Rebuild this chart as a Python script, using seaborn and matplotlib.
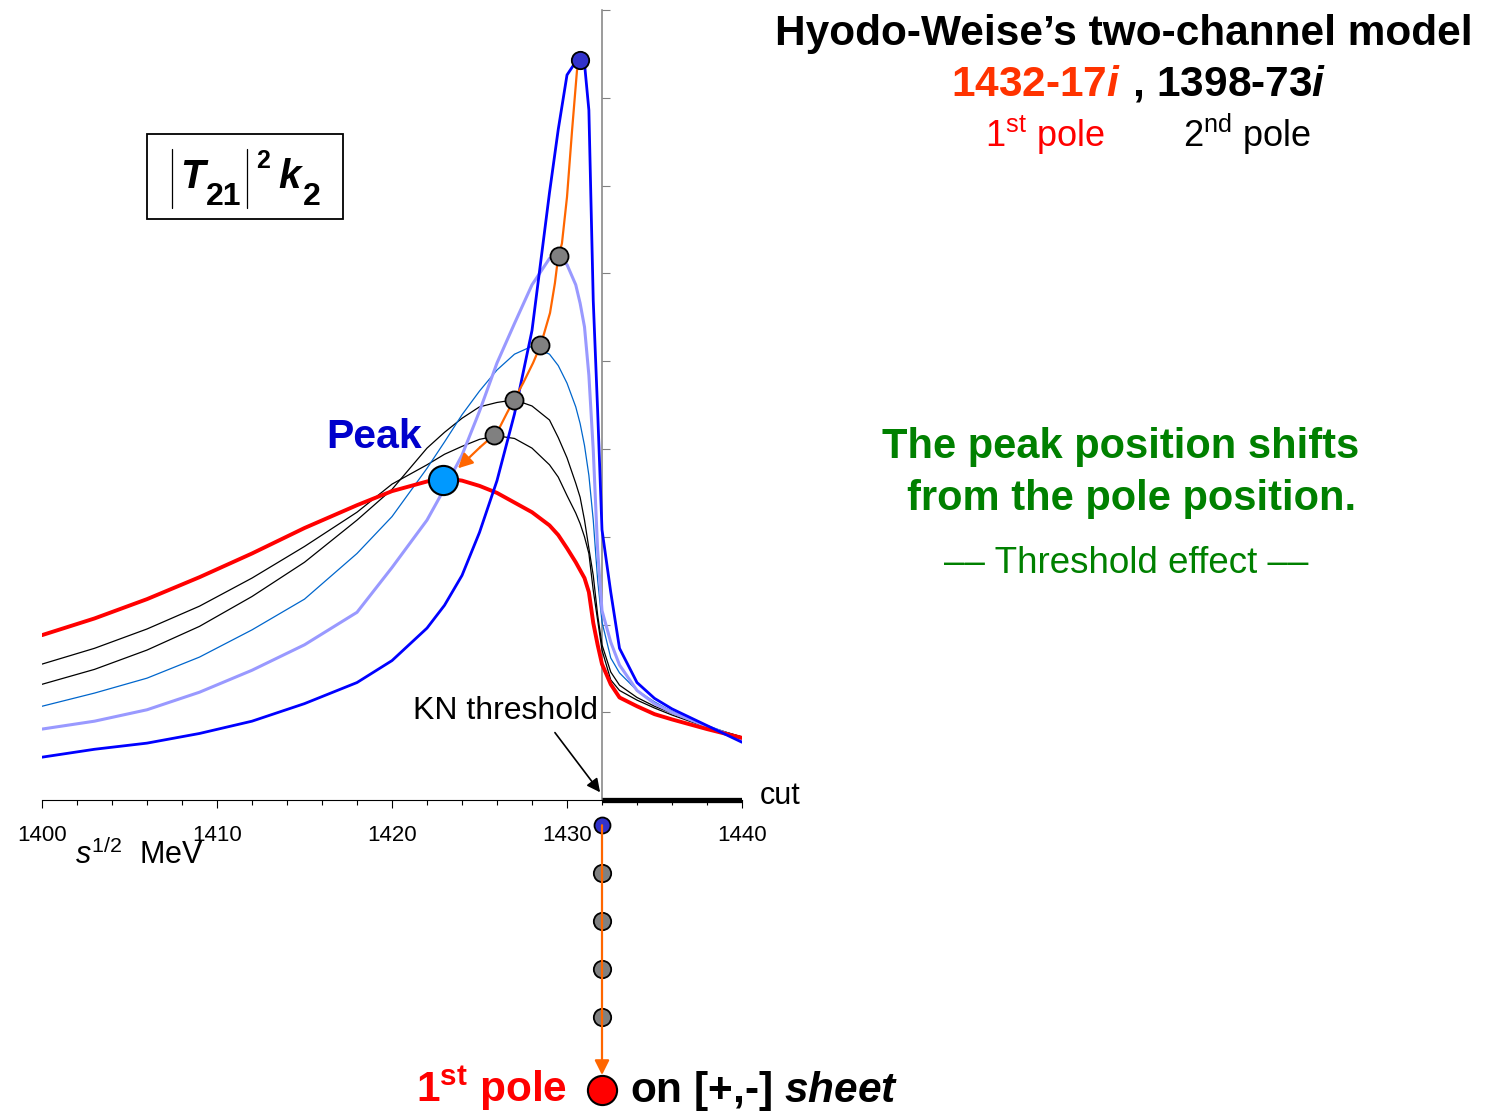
import numpy as np
import pandas as pd
import matplotlib
matplotlib.use("Agg")
import matplotlib.pyplot as plt
import seaborn as sns
from matplotlib.patches import Rectangle
from matplotlib.lines import Line2D

# ---------------- data ----------------
energy = [1400, 1403, 1406, 1409, 1412, 1415, 1418, 1420, 1422, 1423, 1424, 1425,
          1426, 1427, 1428, 1429, 1429.5, 1430, 1430.5, 1430.75, 1431, 1431.25,
          1431.5, 1431.75, 1432, 1432.5, 1433, 1434, 1435, 1436, 1438, 1440]

curve_red = [1.88, 2.07, 2.29, 2.54, 2.81, 3.10, 3.36, 3.52, 3.63, 3.67, 3.64, 3.58,
             3.50, 3.39, 3.28, 3.13, 3.02, 2.87, 2.71, 2.62, 2.53, 2.37,
             2.02, 1.77, 1.55, 1.32, 1.17, 1.07, 0.98, 0.92, 0.81, 0.71]
curve_black1 = [1.55, 1.73, 1.95, 2.21, 2.53, 2.89, 3.28, 3.60, 3.82, 3.94, 4.03, 4.11,
                4.15, 4.12, 4.01, 3.82, 3.68, 3.47, 3.27, 3.15, 3.00, 2.81,
                2.39, 2.05, 1.71, 1.37, 1.25, 1.14, 1.05, 0.97, 0.83, 0.72]
curve_black2 = [1.32, 1.49, 1.71, 1.98, 2.32, 2.71, 3.19, 3.54, 4.01, 4.19, 4.35, 4.48,
                4.53, 4.56, 4.49, 4.33, 4.13, 3.90, 3.61, 3.45, 3.19, 2.87,
                2.56, 2.11, 1.77, 1.46, 1.31, 1.17, 1.07, 0.99, 0.84, 0.72]
curve_thinblue = [1.07, 1.22, 1.39, 1.63, 1.94, 2.29, 2.81, 3.23, 3.78, 4.08, 4.39, 4.66,
                  4.90, 5.08, 5.17, 5.08, 4.95, 4.75, 4.48, 4.29, 4.04, 3.70,
                  3.19, 2.51, 2.03, 1.62, 1.45, 1.25, 1.12, 1.01, 0.85, 0.71]
curve_lilac = [0.81, 0.90, 1.03, 1.23, 1.48, 1.77, 2.14, 2.65, 3.19, 3.55, 3.93, 4.43,
               4.98, 5.43, 5.87, 6.17, 6.18, 6.10, 5.87, 5.66, 5.39, 4.84,
               3.99, 2.85, 2.16, 1.80, 1.54, 1.25, 1.10, 1.00, 0.84, 0.69]
curve_blue = [0.49, 0.58, 0.65, 0.76, 0.90, 1.10, 1.34, 1.59, 1.96, 2.22, 2.56, 3.05,
              3.64, 4.40, 5.35, 6.92, 7.64, 8.26, 8.41, 8.44, 8.39, 7.86,
              5.69, 4.44, 3.08, 2.37, 1.73, 1.34, 1.16, 1.04, 0.85, 0.66]

# peak positions of the curves (blue, then the grey ones)
peak_E = [1430.74, 1429.54, 1428.46, 1426.97, 1425.83]
peak_y = [8.43, 6.20, 5.19, 4.56, 4.16]
big_peak_E = [1422.91]
big_peak_y = [3.645]

# orange trajectory of the peak
traj_E = [1430.74, 1430.57, 1430.29, 1430.0, 1429.71, 1429.49, 1429.31, 1429.03, 1428.74,
          1428.51, 1428.06, 1427.49, 1426.97, 1426.57, 1426.06, 1425.83, 1425.03]
traj_y = [8.43, 8.31, 7.63, 6.87, 6.34, 6.18, 5.89, 5.55, 5.35,
          5.19, 4.98, 4.75, 4.56, 4.41, 4.21, 4.16, 4.02]
traj_tip = (1423.77, 3.78)

# pole trajectory below the real axis
threshold = 1432
pole_y = [-0.285, -0.83, -1.38, -1.92, -2.47]
final_pole_y = -3.30
pole_arrow_tip = -3.13

cut_E = [1432, 1440]
xticks_major = [1400, 1410, 1420, 1430, 1440]
kn_arrow_from = (1429.31, 0.77)
kn_arrow_to = (1431.89, 0.09)

# ---------------- style ----------------
sns.set_theme(style="white")
plt.rcParams["font.family"] = ["Liberation Sans", "DejaVu Sans"]
plt.rcParams["text.color"] = "black"
plt.rcParams["axes.labelcolor"] = "black"
plt.rcParams["xtick.color"] = "black"
plt.rcParams["mathtext.fontset"] = "custom"
plt.rcParams["mathtext.rm"] = "Liberation Sans"
plt.rcParams["mathtext.it"] = "Liberation Sans:italic"
plt.rcParams["mathtext.bf"] = "Liberation Sans:bold"
try:
    plt.rcParams["mathtext.bfit"] = "Liberation Sans:italic:bold"
except KeyError:
    pass

W, H = 1490, 1113
PY = 87.8  # px per y unit
fig = plt.figure(figsize=(W / 100, H / 100), dpi=100)
fig.patch.set_facecolor("white")


def fx(x):
    return x / W


def fy(y):
    return 1 - y / H


ax = fig.add_axes([fx(42), fy(1110), 700 / W, 1100 / H])
ax.set_xlim(1400, 1440)
ax.set_ylim(9 - 1100 / PY, 9)
ax.patch.set_alpha(0)

# ---------------- curves ----------------
curves = [
    ("black1", curve_black1, "#000000", 0.9),
    ("black2", curve_black2, "#000000", 0.9),
    ("thinblue", curve_thinblue, "#0066CC", 0.9),
    ("lilac", curve_lilac, "#9999FF", 2.2),
    ("red", curve_red, "#FF0000", 2.8),
    ("blue", curve_blue, "#0000FF", 2.0),
]
df = pd.concat([pd.DataFrame({"E": energy, "y": v, "curve": n}) for n, v, _, _ in curves])
for name, _, col, lw in curves:
    sns.lineplot(data=df[df["curve"] == name], x="E", y="y", color=col, lw=lw,
                 estimator=None, sort=False, ax=ax, legend=False, zorder=3)

orange = "#FF6600"
ax.plot(traj_E, traj_y, color=orange, lw=1.6, zorder=4)
ax.annotate("", xy=traj_tip, xytext=(traj_E[-1], traj_y[-1]),
            arrowprops=dict(arrowstyle="-|>", color=orange, lw=1.6, mutation_scale=22,
                            shrinkA=0, shrinkB=0), zorder=4)

ax.plot(peak_E[:1], peak_y[:1], "o", ms=12.5, mfc="#3333CC", mec="black", mew=1.3, zorder=6)
ax.plot(peak_E[1:], peak_y[1:], "o", ms=13, mfc="#808080", mec="black", mew=1.3, zorder=6)
ax.plot(big_peak_E, big_peak_y, "o", ms=21, mfc="#0099FF", mec="black", mew=1.5, zorder=6)

# cut
ax.plot(cut_E, [0, 0], color="black", lw=3.8, solid_capstyle="butt", zorder=5)

# pole trajectory
ax.annotate("", xy=(threshold, pole_arrow_tip), xytext=(threshold, pole_y[0]),
            arrowprops=dict(arrowstyle="-|>", color=orange, lw=1.6, mutation_scale=22,
                            shrinkA=0, shrinkB=0), zorder=7, annotation_clip=False)
ax.plot([threshold], pole_y[:1], "o", ms=11.5, mfc="#3333CC", mec="black", mew=1.3,
        zorder=6, clip_on=False)
ax.plot([threshold] * 4, pole_y[1:], "o", ms=12.5, mfc="#808080", mec="black", mew=1.3,
        zorder=6, clip_on=False)
ax.plot([threshold], [final_pole_y], "o", ms=21, mfc="#FF0000", mec="black", mew=1.5,
        zorder=6, clip_on=False)

# KN threshold arrow
ax.annotate("", xy=kn_arrow_to, xytext=kn_arrow_from,
            arrowprops=dict(arrowstyle="-|>", color="black", lw=1.2, mutation_scale=20,
                            shrinkA=0, shrinkB=0), zorder=5)
ax.text(1421.2, 0.93, "KN threshold", fontsize=23, color="black", ha="left",
        va="baseline", zorder=8)
ax.text(1441.0, 0.05, "cut", fontsize=22, color="black", ha="left", va="center",
        clip_on=False)

# ---------------- axes ----------------
ax.spines["top"].set_visible(False)
ax.spines["right"].set_visible(False)
ax.spines["bottom"].set_position(("data", 0))
ax.spines["bottom"].set_bounds(1400, 1440)
ax.spines["bottom"].set_color("black")
ax.spines["bottom"].set_linewidth(0.8)
ax.spines["left"].set_position(("data", threshold))
ax.spines["left"].set_bounds(0, 9)
ax.spines["left"].set_color("#808080")
ax.spines["left"].set_linewidth(1.1)
ax.set_xticks(xticks_major)
ax.set_xticks(np.arange(1400, 1441, 2), minor=True)
ax.set_yticks(range(1, 10))
ax.tick_params(axis="y", which="both", left=True, direction="in", length=5.8, width=0.8,
               color="#808080", labelleft=False)
ax.tick_params(axis="x", which="major", bottom=True, direction="out", length=5.8, width=0.8,
               color="black", pad=12, labelsize=16, labelcolor="black")
ax.tick_params(axis="x", which="minor", bottom=True, direction="out", length=3.8, width=0.8,
               color="black")
ax.set_xlabel("")
ax.set_ylabel("")
ax.grid(False)

fig.text(fx(75), fy(864), r"$\mathit{s}^{1/2}$  MeV", fontsize=22, color="black",
         ha="left", va="baseline")

# ---------------- annotations ----------------
fig.text(fx(1124), fy(45), "Hyodo-Weise\u2019s two-channel model", fontsize=30.5,
         fontweight="bold", color="black", ha="center", va="baseline")
fig.text(fx(1121), fy(96), r"1432-17$\mathbfit{i}$", fontsize=30.5, fontweight="bold",
         color="#FF3300", ha="right", va="baseline")
fig.text(fx(1121), fy(96), r" , 1398-73$\mathbfit{i}$", fontsize=30.5, fontweight="bold",
         color="black", ha="left", va="baseline")
fig.text(fx(985), fy(147), r"1$^{\mathrm{st}}$ pole", fontsize=26, color="#FF0000",
         ha="left", va="baseline")
fig.text(fx(1183), fy(147), r"2$^{\mathrm{nd}}$ pole", fontsize=26, color="black",
         ha="left", va="baseline")

green = "#008000"
fig.text(fx(1121), fy(458), "The peak position shifts", fontsize=30, fontweight="bold",
         color=green, ha="center", va="baseline")
fig.text(fx(1132), fy(510), "from the pole position.", fontsize=30, fontweight="bold",
         color=green, ha="center", va="baseline")
fig.text(fx(1126), fy(573), "\u2013\u2013 Threshold effect \u2013\u2013", fontsize=26.5,
         color=green, ha="center", va="baseline")

fig.text(fx(374), fy(448), "Peak", fontsize=29.5, fontweight="bold", color="#0000CC",
         ha="center", va="baseline")

# box with |T21|^2 k2
fig.add_artist(Rectangle((fx(147), fy(219)), 196 / W, 85 / H, transform=fig.transFigure,
                         fill=False, lw=1.3, edgecolor="black"))
for xb in (171.5, 247.0):
    fig.add_artist(Line2D([fx(xb), fx(xb)], [fy(149), fy(208)], transform=fig.transFigure,
                          color="black", lw=0.9))
fig.text(fx(180), fy(188), "T", fontsize=29, fontweight="bold", fontstyle="italic",
         color="black", ha="left", va="baseline")
fig.text(fx(206), fy(205), "21", fontsize=23, fontweight="bold", color="black",
         ha="left", va="baseline")
fig.text(fx(256), fy(168), "2", fontsize=18, fontweight="bold", color="black",
         ha="left", va="baseline")
fig.text(fx(278), fy(188), "k", fontsize=29, fontweight="bold", fontstyle="italic",
         color="black", ha="left", va="baseline")
fig.text(fx(303), fy(205), "2", fontsize=23, fontweight="bold", color="black",
         ha="left", va="baseline")

# bottom line
fig.text(fx(567), fy(1102), r"1$^{\mathbf{st}}$ pole", fontsize=30.5, fontweight="bold",
         color="#FF0000", ha="right", va="baseline")
fig.text(fx(630), fy(1102), r"on [+,-] $\mathbfit{sheet}$", fontsize=30.5,
         fontweight="bold", color="black", ha="left", va="baseline")

fig.savefig("out.png", dpi=100, facecolor="white")
